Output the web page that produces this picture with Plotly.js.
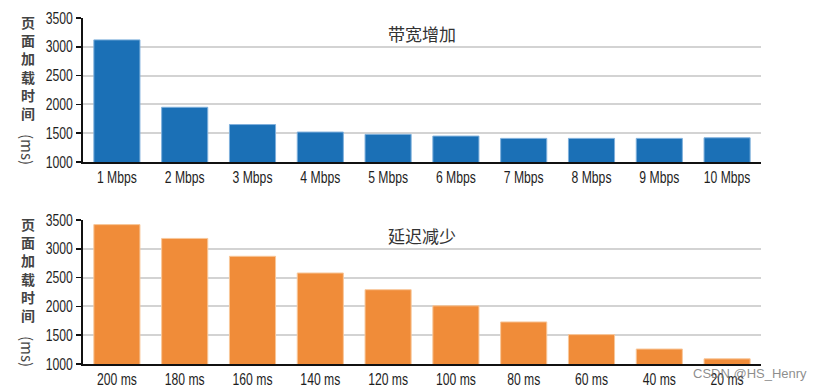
<!DOCTYPE html>
<html>
<head>
<meta charset="utf-8">
<script src="https://cdn.plot.ly/plotly-3.0.1.min.js"></script>
<style>html,body{margin:0;padding:0;background:#fff;}#chart{width:821px;height:390px;}</style>
</head>
<body>
<div id="chart"></div>
<script>
const bandwidthLabels = ["1 Mbps","2 Mbps","3 Mbps","4 Mbps","5 Mbps","6 Mbps","7 Mbps","8 Mbps","9 Mbps","10 Mbps"];
const bandwidthValues = [3120, 1950, 1650, 1520, 1480, 1450, 1410, 1410, 1410, 1420];
const latencyLabels = ["200 ms","180 ms","160 ms","140 ms","120 ms","100 ms","80 ms","60 ms","40 ms","20 ms"];
const latencyValues = [3420, 3180, 2870, 2580, 2290, 2010, 1730, 1510, 1260, 1090];
const yTicks = [1000, 1500, 2000, 2500, 3000, 3500];
const topTitle = "带宽增加";
const bottomTitle = "延迟减少";
const yTitleChars = ["页", "面", "加", "载", "时", "间"];
const yTitleUnit = "(ms)";
const watermark = "CSDN @HS_Henry";

const W = 821, H = 390;
const tickFont = {family: "Liberation Sans, Arial, sans-serif", size: 16, color: "#1e1e1e"};
const cjk = "Noto Sans CJK SC, sans-serif";

const xDomain = [83/W, 761/W];
const topDom = [1-162/H, 1-18/H];
const botDom = [1-364/H, 1-220/H];

function yax(dom, anchor){
  return {domain: dom, anchor: anchor, range: [1000, 3500], tickvals: yTicks, ticktext: yTicks.map(String),
    showgrid: true, gridcolor: "#d3d3d3", gridwidth: 2, showline: true, linecolor: "#111", linewidth: 2,
    ticks: "outside", ticklen: 5, tickwidth: 1.5, tickcolor: "#111", tickfont: tickFont, zeroline: false, fixedrange: true};
}
function xax(anchor){
  return {domain: xDomain, anchor: anchor, type: "category", showline: true, linecolor: "#111", linewidth: 2,
    ticks: "", tickfont: tickFont, showgrid: false, fixedrange: true};
}

const data = [
  {type: "bar", x: bandwidthLabels, y: bandwidthValues, xaxis: "x", yaxis: "y",
   marker: {color: "#1b70b6", line: {color: "#7fb0dc", width: 1}}, hoverinfo: "none"},
  {type: "bar", x: latencyLabels, y: latencyValues, xaxis: "x2", yaxis: "y2",
   marker: {color: "#f08c39", line: {color: "#f8c79a", width: 1}}, hoverinfo: "none"}
];

const ann = [];
function addTitles(plotTop, title){
  ann.push({xref: "paper", yref: "paper", x: 422/W, y: 1-(plotTop+15)/H, text: title, showarrow: false,
    xanchor: "center", yanchor: "middle", font: {family: cjk, size: 17, color: "#333"}});
  ann.push({xref: "paper", yref: "paper", x: 28/W, y: 1-(plotTop+49.5)/H,
    text: "<b>" + yTitleChars.join("<br>") + "</b>", showarrow: false,
    xanchor: "center", yanchor: "middle", font: {family: cjk, size: 14, color: "#444"}});
  ann.push({xref: "paper", yref: "paper", x: 28/W, y: 1-(plotTop+131)/H, text: yTitleUnit, showarrow: false, textangle: 90,
    xanchor: "center", yanchor: "middle", font: {family: cjk, size: 15, color: "#444"}});
}
addTitles(18, topTitle);
addTitles(220, bottomTitle);
ann.push({xref: "paper", yref: "paper", x: 750/W, y: 1-373/H, text: watermark, showarrow: false,
  xanchor: "center", yanchor: "middle", font: {family: "Liberation Sans, Arial, sans-serif", size: 13, color: "rgba(120,120,120,0.85)"}});

const layout = {
  width: W, height: H, margin: {l: 0, r: 0, t: 0, b: 0}, paper_bgcolor: "#fff", plot_bgcolor: "#fff",
  showlegend: false, bargap: 0.32,
  xaxis: xax("y"), yaxis: yax(topDom, "x"),
  xaxis2: xax("y2"), yaxis2: yax(botDom, "x2"),
  annotations: ann
};

function condenseTicks(gd){
  gd.querySelectorAll("g.xtick text, g.ytick text, g.x2tick text, g.y2tick text").forEach(t => {
    if (t.getAttribute("data-condensed")) return;
    const len = t.getComputedTextLength();
    t.setAttribute("textLength", (len * 0.76).toFixed(1));
    t.setAttribute("lengthAdjust", "spacingAndGlyphs");
    t.setAttribute("data-condensed", "1");
  });
}
Plotly.newPlot("chart", data, layout, {displayModeBar: false, staticPlot: true}).then(gd => condenseTicks(gd));
</script>
</body>
</html>
